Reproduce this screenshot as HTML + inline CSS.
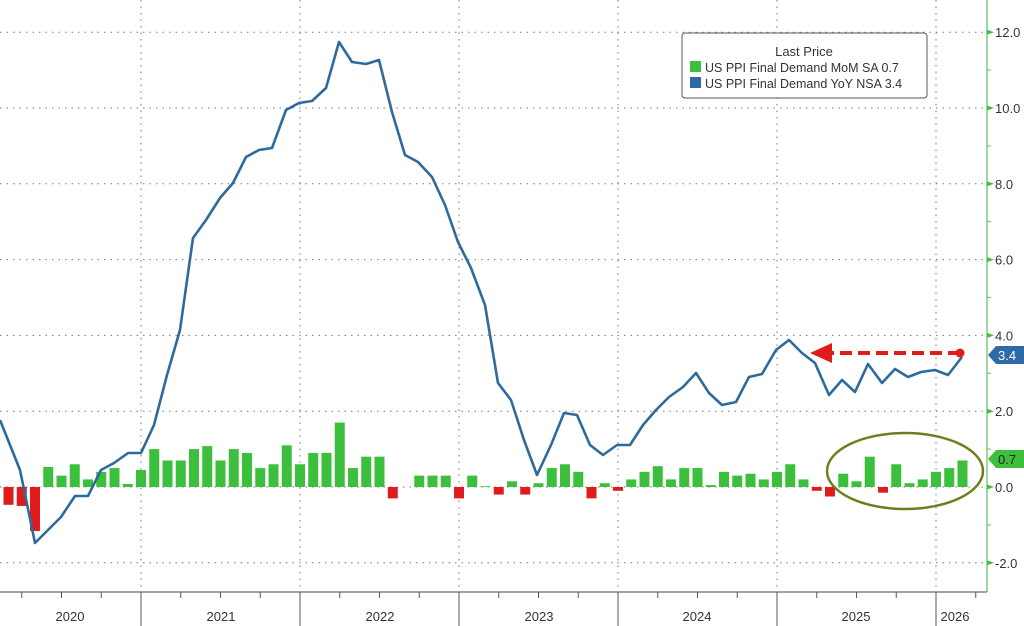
<!DOCTYPE html>
<html><head><meta charset="utf-8"><style>
html,body{margin:0;padding:0;background:#fff;width:1024px;height:626px;overflow:hidden}
svg{display:block;font-family:"Liberation Sans",sans-serif}
</style></head><body>
<svg id="c" width="1024" height="626" viewBox="0 0 1024 626" xmlns="http://www.w3.org/2000/svg"></svg>
<script>
const s=document.getElementById('c');
const Z=487,U=37.9;
const Y=v=>Z-v*U, X=k=>141+k*13.25;
let h='';
// horizontal grid
[12,10,8,6,4,2,0,-2].forEach(v=>{h+=`<line x1="0" x2="987" y1="${Y(v)}" y2="${Y(v)}" stroke="#777" stroke-width="1" stroke-dasharray="1.5 5"/>`;});
// vertical grid
[141,300,459,618,777,936].forEach(x=>{h+=`<line x1="${x}" x2="${x}" y1="0" y2="592" stroke="#777" stroke-width="1" stroke-dasharray="1.5 5"/>`;});
// bars
const bars={'-10':-0.47,'-9':-0.5,'-8':-1.16,'-7':0.53,'-6':0.3,'-5':0.6,'-4':0.2,'-3':0.4,'-2':0.5,'-1':0.08,0:0.45,1:1.0,2:0.7,3:0.7,4:1.0,5:1.08,6:0.7,7:1.0,8:0.9,9:0.5,10:0.6,11:1.1,12:0.6,13:0.9,14:0.9,15:1.7,16:0.5,17:0.8,18:0.8,19:-0.3,20:0.0,21:0.3,22:0.3,23:0.3,24:-0.3,25:0.3,26:0.02,27:-0.2,28:0.15,29:-0.2,30:0.1,31:0.5,32:0.6,33:0.4,34:-0.3,35:0.1,36:-0.1,37:0.2,38:0.4,39:0.55,40:0.2,41:0.5,42:0.5,43:0.05,44:0.4,45:0.3,46:0.35,47:0.2,48:0.4,49:0.6,50:0.2,51:-0.1,52:-0.25,53:0.35,54:0.15,55:0.8,56:-0.15,57:0.6,58:0.1,59:0.2,60:0.4,61:0.5,62:0.7};
for(const k in bars){const v=bars[k];if(Math.abs(v)<0.01)continue;const x=X(+k)-5;const y=v>0?Y(v):Z;const hh=Math.abs(v)*U;
h+=`<rect x="${x}" y="${y}" width="10" height="${hh}" fill="${v>0?'#3cbf3c':'#e01b1b'}"/>`;}
// line
const L=[[0,420],[20,470],[35,543],[48,530],[61,517],[75,496],[88,496],[101,470],[114,463],[128,453],[141,453],[154,425],[167,375],[180,330],[193,238],[206,220],[220,198],[233,183],[246,157],[259,150],[272,148],[286,110],[299,103],[312,101],[326,88],[339,42],[352,62],[366,64],[379,60],[392,112],[405,155],[418,162],[432,177],[445,205],[458,242],[471,268],[485,305],[498,383],[511,400],[524,440],[537,475],[551,445],[564,413],[577,415],[590,445],[603,455],[617,445],[630,445],[643,425],[656,410],[669,397],[683,387],[696,373],[709,393],[722,405],[736,402],[749,377],[762,374],[776,350],[789,340],[802,353],[815,363],[829,395],[842,380],[855,392],[868,364],[882,383],[895,369],[908,377],[921,372],[935,370],[948,375],[962,357]];
h+=`<polyline points="${L.map(p=>p.join(',')).join(' ')}" fill="none" stroke="#2f6a9c" stroke-width="2.6" stroke-linejoin="round"/>`;
// arrow
h+=`<line x1="960" y1="353" x2="828" y2="353" stroke="#e01b1b" stroke-width="4" stroke-dasharray="12 6"/>`;
h+=`<polygon points="810,353 832,343 832,363" fill="#e01b1b"/><circle cx="960" cy="353" r="4.5" fill="#e01b1b"/>`;
// ellipse
h+=`<ellipse cx="905" cy="471" rx="78" ry="38" fill="none" stroke="#6b7f1c" stroke-width="2.5"/>`;
// right axis
h+=`<line x1="987" x2="987" y1="0" y2="592" stroke="#5cc35c" stroke-width="1.2"/>`;
for(let v=-3;v<=13;v++){const y=Y(v);if(y<0||y>592)continue;
 if(v%2===0){h+=`<polygon points="987,${y-2.5} 994,${y} 987,${y+2.5}" fill="#3cbf3c"/><text x="995" y="${y+5}" font-size="13" fill="#333">${v<0?'-':''}${Math.abs(v)}.0</text>`;}
 else h+=`<line x1="987" x2="991" y1="${y}" y2="${y}" stroke="#5cc35c"/>`;}
// value labels
h+=`<polygon points="988,355 996,346 1024,346 1024,364 996,364" fill="#2f6aa8"/><text x="998" y="360" font-size="13" fill="#fff">3.4</text>`;
h+=`<polygon points="988,459 996,450 1024,450 1024,468 996,468" fill="#3cbf3c"/><text x="998" y="464" font-size="13" fill="#222">0.7</text>`;
// bottom axis
h+=`<line x1="0" x2="987" y1="592" y2="592" stroke="#444" stroke-width="1"/>`;
for(let k=-12;k<=63;k+=3){const x=141+k*13.25;if(x<0||x>987)continue;
 const yr=(k%12===0);h+=`<line x1="${x}" x2="${x}" y1="592" y2="${yr?626:598}" stroke="#555" stroke-width="1"/>`;}
[[70,2020],[221,2021],[380,2022],[539,2023],[697,2024],[856,2025],[955,2026]].forEach(([x,t])=>{h+=`<text x="${x}" y="621" font-size="13" fill="#333" text-anchor="middle">${t}</text>`;});
// legend
h+=`<rect x="682" y="33" width="245" height="65" rx="3" fill="#fff" stroke="#555" stroke-width="1"/>`;
h+=`<text x="804" y="56" font-size="13" fill="#333" text-anchor="middle">Last Price</text>`;
h+=`<rect x="690" y="61" width="11" height="11" fill="#3cbf3c"/><text x="705" y="72" font-size="12.5" fill="#333">US PPI Final Demand MoM SA  0.7</text>`;
h+=`<rect x="690" y="77" width="11" height="11" fill="#2f6aa8"/><text x="705" y="88" font-size="12.5" fill="#333">US PPI Final Demand YoY NSA 3.4</text>`;
s.innerHTML=h;
</script>
</body></html>
